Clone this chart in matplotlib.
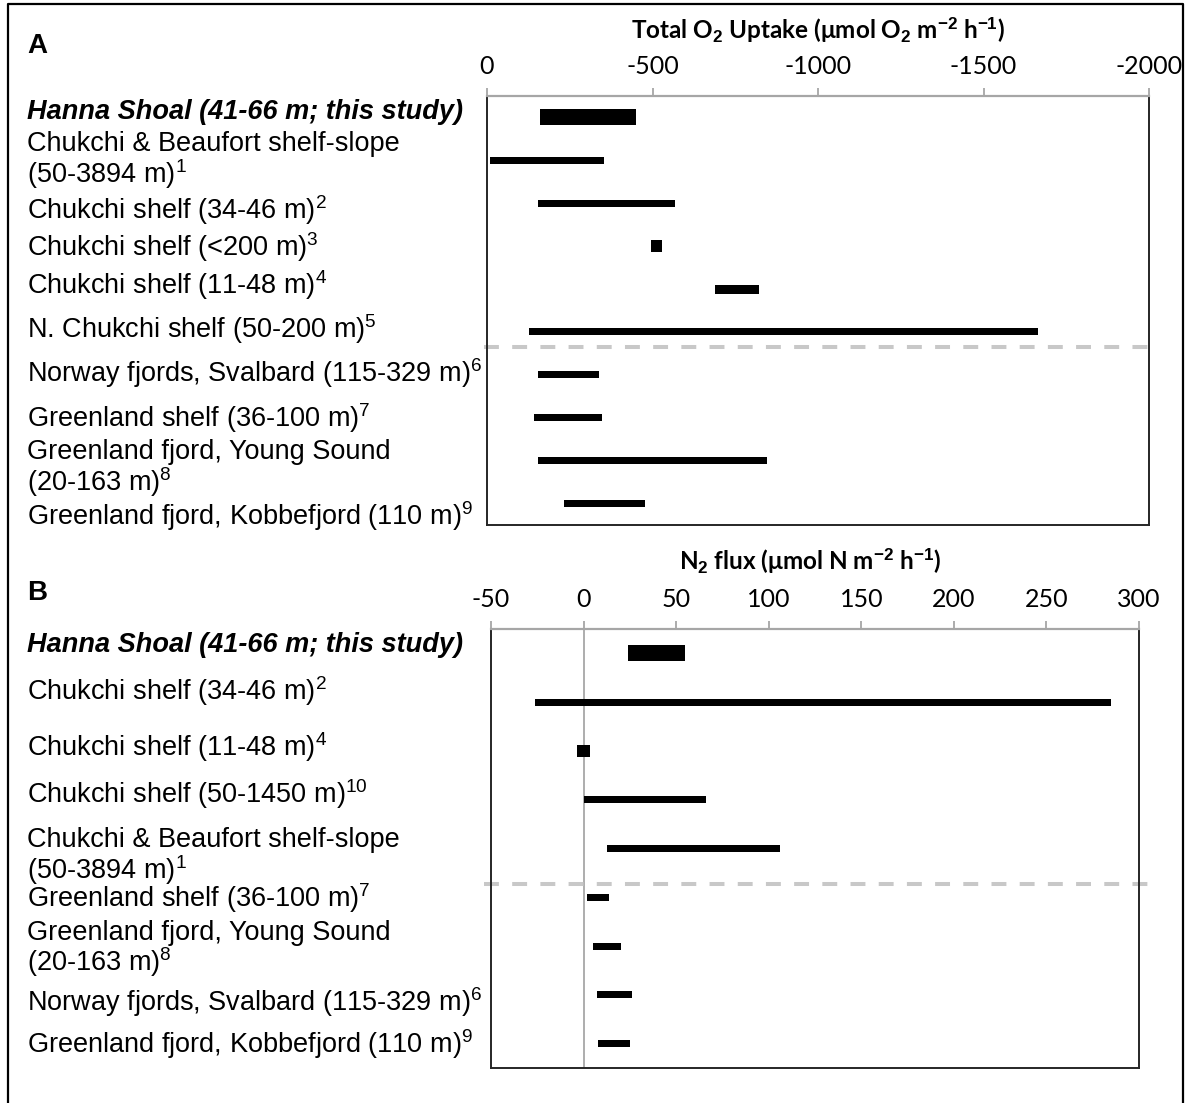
import matplotlib
matplotlib.use("Agg")
import matplotlib.pyplot as plt
import matplotlib.transforms as mtransforms

plt.rcParams['mathtext.fontset'] = 'custom'
plt.rcParams['mathtext.rm'] = 'Liberation Sans'
plt.rcParams['mathtext.it'] = 'Liberation Sans:italic'
plt.rcParams['mathtext.bf'] = 'Liberation Sans:bold'

# ---------------- data: panel A (Total O2 uptake) ----------------
labels_a = [
    "Hanna Shoal (41-66 m; this study)",
    "Chukchi & Beaufort shelf-slope\n(50-3894 m)$^1$",
    "Chukchi shelf (34-46 m)$^2$",
    "Chukchi shelf (<200 m)$^3$",
    "Chukchi shelf (11-48 m)$^4$",
    "N. Chukchi shelf (50-200 m)$^5$",
    "Norway fjords, Svalbard (115-329 m)$^6$",
    "Greenland shelf (36-100 m)$^7$",
    "Greenland fjord, Young Sound\n(20-163 m)$^8$",
    "Greenland fjord, Kobbefjord (110 m)$^9$",
]
low_a = [-160, -10, -155, -494, -688, -127, -155, -142, -155, -232]
high_a = [-450, -352, -567, -530, -823, -1665, -338, -347, -845, -477]
ticks_a = [0, -500, -1000, -1500, -2000]

# ---------------- data: panel B (N2 flux) ----------------
labels_b = [
    "Hanna Shoal (41-66 m; this study)",
    "Chukchi shelf (34-46 m)$^2$",
    "Chukchi shelf (11-48 m)$^4$",
    "Chukchi shelf (50-1450 m)$^{10}$",
    "Chukchi & Beaufort shelf-slope\n(50-3894 m)$^1$",
    "Greenland shelf (36-100 m)$^7$",
    "Greenland fjord, Young Sound\n(20-163 m)$^8$",
    "Norway fjords, Svalbard (115-329 m)$^6$",
    "Greenland fjord, Kobbefjord (110 m)$^9$",
]
low_b = [24, -26, -3.5, 0.5, 12.5, 1.6, 5, 7, 8]
high_b = [55, 285, 3.5, 66, 106, 14, 20, 26, 25]
ticks_b = [-50, 0, 50, 100, 150, 200, 250, 300]

# ---------------- layout / style ----------------
W, H = 1188, 1103
fig = plt.figure(figsize=(W / 100, H / 100), dpi=100)

def px_axes(x0, x1, y0, y1):
    return fig.add_axes([x0 / W, 1 - y1 / H, (x1 - x0) / W, (y1 - y0) / H])

ax_a = px_axes(487, 1149, 96, 525)
ax_b = px_axes(491, 1139, 629, 1068)

# bar heights (px -> row units)
heights_a = [16 / 43, 7 / 43, 7 / 43, 12 / 43, 9 / 43, 7 / 43, 7 / 43, 7 / 43, 7 / 43, 7 / 43]
heights_b = [16 / 48.8, 7 / 48.8, 12 / 48.8, 7 / 48.8, 7 / 48.8, 7 / 48.8, 7 / 48.8, 7 / 48.8, 7 / 48.8]

# label vertical positions in row units
label_y_a = [-0.12, 1.02, 2.17, 3.03, 3.9, 4.93, 5.95, 7.0, 8.2, 9.3]
label_y_b = [-0.17, 0.77, 1.92, 2.88, 4.17, 5.02, 6.07, 7.14, 8.02]

spine_dark = '#262626'
axis_gray = '#a6a6a6'

def style_axes(ax, xlim, ticks, nrows):
    ax.set_xlim(*xlim)
    ax.set_ylim(nrows - 0.5, -0.5)
    ax.xaxis.tick_top()
    ax.set_xticks(ticks)
    ax.set_xticklabels([str(t) for t in ticks], fontfamily='Lato', fontsize=18)
    ax.tick_params(axis='x', direction='out', length=6, width=1.3, color=axis_gray, pad=7)
    ax.set_yticks([])
    for s in ['left', 'right', 'bottom']:
        ax.spines[s].set_color(spine_dark)
        ax.spines[s].set_linewidth(1.4)
    ax.spines['top'].set_color(axis_gray)
    ax.spines['top'].set_linewidth(1.6)

def draw_labels(ax, labels, ys):
    trans = mtransforms.blended_transform_factory(fig.transFigure, ax.transData)
    for i, (lab, y) in enumerate(zip(labels, ys)):
        if i == 0:
            fig.text(27 / W, y, lab, transform=trans, ha='left', va='center',
                     fontfamily='Liberation Sans', fontsize=19.5,
                     fontweight='bold', fontstyle='italic')
        else:
            fig.text(27 / W, y, lab, transform=trans, ha='left', va='center',
                     fontfamily='Liberation Sans', fontsize=19.5, linespacing=1.0)

# Panel A
style_axes(ax_a, (0, -2000), ticks_a, len(labels_a))
for i, (lo, hi) in enumerate(zip(low_a, high_a)):
    ax_a.barh(i, hi - lo, left=lo, height=heights_a[i], color='black')
ax_a.axhline(5.34, xmin=-0.005, xmax=1.0, color='#c8c8c8', lw=2.9,
             dashes=(3.7, 3.3), clip_on=False)
draw_labels(ax_a, labels_a, label_y_a)

# Panel B
style_axes(ax_b, (-50, 300), ticks_b, len(labels_b))
ax_b.axvline(0, color='#a0a0a0', lw=1.2, zorder=0)
for i, (lo, hi) in enumerate(zip(low_b, high_b)):
    ax_b.barh(i, hi - lo, left=lo, height=heights_b[i], color='black')
ax_b.axhline(4.73, xmin=-0.011, xmax=1.03, color='#c8c8c8', lw=2.9,
             dashes=(3.7, 3.3), clip_on=False)
draw_labels(ax_b, labels_b, label_y_b)

# titles
fig.text(818 / W, 1 - 30 / H,
         r'Total O$_\mathbf{2}$ Uptake (μmol O$_\mathbf{2}$ m$^\mathbf{-2}$ h$^\mathbf{-1}$)',
         ha='center', va='center', fontfamily='Lato', fontweight='bold', fontsize=17.5)
fig.text(810 / W, 1 - 561 / H,
         r'N$_\mathbf{2}$ flux (μmol N m$^\mathbf{-2}$ h$^\mathbf{-1}$)',
         ha='center', va='center', fontfamily='Lato', fontweight='bold', fontsize=17.5)

# panel letters
fig.text(27 / W, 1 - 46 / H, 'A', ha='left', va='center', fontfamily='Liberation Sans',
         fontweight='bold', fontsize=20)
fig.text(27 / W, 1 - 593 / H, 'B', ha='left', va='center', fontfamily='Liberation Sans',
         fontweight='bold', fontsize=20)

# outer frame (open at the bottom)
fig.add_artist(plt.Line2D([8 / W, 8 / W, 1183 / W, 1183 / W],
                          [0, 1 - 4 / H, 1 - 4 / H, 0],
                          transform=fig.transFigure, color='black', lw=1.6))

fig.savefig('out.png', dpi=100)
